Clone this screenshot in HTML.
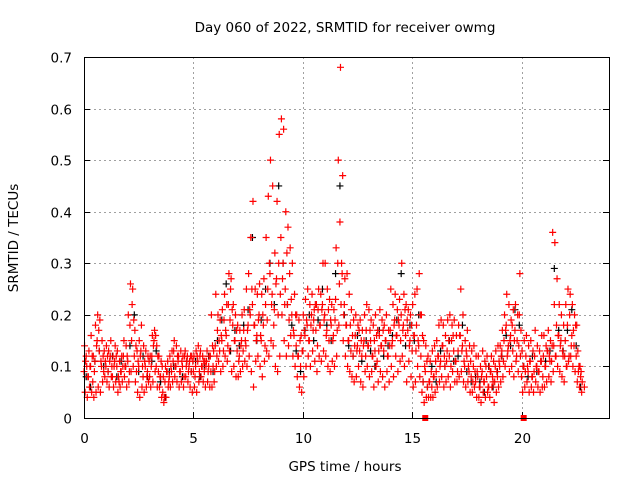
<!DOCTYPE html>
<html><head><meta charset="utf-8"><style>
body{margin:0;background:#fff}
svg{display:block;font-family:"DejaVu Sans","Liberation Sans",sans-serif}
</style></head><body>
<svg id="chart" width="640" height="480" xmlns="http://www.w3.org/2000/svg">
<rect width="640" height="480" fill="#fff"/>
<text x="345" y="32" font-size="13.5" text-anchor="middle">Day 060 of 2022, SRMTID for receiver owmg</text>
<text transform="translate(18,238) rotate(-90)" font-size="13.5" text-anchor="middle">SRMTID / TECUs</text>
<text x="345" y="471" font-size="13.5" text-anchor="middle">GPS time / hours</text>
<g id="grid"></g>
<g id="ticks"></g>
<g id="marks"></g>
<rect x="84.5" y="57.5" width="525" height="361" fill="none" stroke="#000" stroke-width="1"/>
</svg>
<script>
const xTicks=[0,5,10,15,20];
const yTicks=[0,0.1,0.2,0.3,0.4,0.5,0.6,0.7];
const yTickLabels=["0","0.1","0.2","0.3","0.4","0.5","0.6","0.7"];
const step=0.1;
const redA=[.09,.12,.08,.10,.07,.11,.15,.13,.10,.09,.10,.09,.12,.08,.11,.10,.07,.09,.12,.10,.11,.18,.22,.12,.09,.10,.13,.08,.10,.09,.08,.12,.15,.10,.09,.08,.05,.07,.09,.08,.09,.13,.10,.11,.09,.10,.12,.11,.10,.09,.09,.10,.11,.12,.10,.09,.11,.10,.09,.10,.14,.17,.13,.15,.19,.16,.22,.25,.18,.15,.13,.12,.15,.17,.14,.18,.20,.22,.18,.16,.20,.15,.18,.22,.25,.28,.24,.21,.27,.30,.35,.30,.25,.22,.28,.20,.16,.14,.12,.10,.13,.16,.18,.15,.20,.19,.17,.21,.18,.22,.20,.17,.15,.18,.16,.23,.30,.38,.28,.22,.18,.15,.13,.12,.16,.14,.13,.12,.15,.17,.14,.15,.12,.13,.11,.16,.14,.13,.15,.12,.17,.15,.19,.16,.18,.20,.18,.16,.17,.15,.13,.16,.18,.14,.12,.07,.09,.06,.07,.06,.08,.09,.12,.11,.14,.10,.13,.12,.15,.13,.11,.13,.16,.14,.10,.12,.09,.08,.10,.07,.08,.06,.09,.07,.08,.06,.09,.07,.10,.08,.10,.13,.15,.18,.14,.16,.13,.17,.15,.20,.08,.10,.12,.09,.11,.08,.12,.10,.09,.11,.12,.10,.13,.11,.14,.22,.18,.16,.15,.12,.15,.18,.20,.16,.14,.12,.09,.08];
const redB=[.14,.10,.13,.16,.12,.18,.20,.19,.15,.13,.14,.13,.15,.12,.14,.13,.11,.12,.15,.14,.20,.26,.25,.17,.13,.15,.18,.14,.13,.12,.12,.16,.17,.14,.12,.11,.08,.10,.11,.12,.13,.15,.14,.12,.13,.12,.13,.12,.11,.12,.12,.13,.14,.13,.12,.11,.13,.12,.20,.13,.24,.20,.19,.21,.24,.22,.28,.27,.22,.20,.18,.17,.20,.21,.25,.28,.35,.42,.25,.24,.26,.24,.27,.35,.43,.50,.45,.32,.42,.55,.58,.56,.40,.37,.33,.30,.24,.20,.19,.16,.20,.23,.25,.22,.24,.21,.22,.25,.24,.30,.30,.25,.23,.22,.21,.33,.50,.68,.47,.27,.28,.24,.21,.19,.20,.18,.19,.17,.20,.22,.21,.19,.18,.20,.17,.21,.19,.18,.20,.17,.25,.22,.24,.21,.23,.30,.24,.22,.21,.20,.22,.24,.25,.28,.20,.15,.14,.12,.11,.13,.14,.15,.18,.19,.18,.16,.19,.20,.18,.19,.16,.18,.25,.20,.15,.17,.14,.13,.14,.12,.12,.10,.13,.11,.12,.10,.12,.11,.13,.14,.14,.17,.20,.24,.22,.19,.21,.22,.20,.28,.13,.15,.16,.14,.15,.13,.17,.14,.13,.16,.16,.14,.17,.15,.36,.34,.27,.22,.20,.18,.22,.25,.24,.22,.20,.18,.10,.09];
const redC=[.05,.04,.06,.05,.04,.05,.06,.05,.07,.08,.07,.06,.08,.06,.07,.05,.06,.07,.08,.06,.07,.09,.10,.07,.05,.04,.06,.05,.06,.07,.06,.07,.09,.06,.06,.04,.03,.04,.06,.06,.07,.08,.07,.06,.07,.06,.08,.07,.06,.05,.06,.05,.07,.08,.07,.06,.07,.06,.06,.07,.10,.11,.09,.10,.12,.11,.13,.09,.10,.08,.08,.09,.10,.11,.10,.12,.09,.06,.11,.12,.10,.08,.11,.13,.12,.15,.14,.10,.09,.12,.20,.15,.12,.14,.16,.12,.10,.08,.06,.05,.08,.10,.12,.10,.13,.11,.09,.12,.11,.13,.12,.10,.09,.11,.10,.12,.18,.22,.15,.12,.10,.09,.08,.07,.08,.10,.07,.06,.09,.10,.08,.09,.06,.10,.07,.09,.08,.06,.09,.07,.10,.08,.12,.09,.11,.12,.10,.07,.11,.08,.06,.07,.10,.08,.05,.03,.04,.04,.04,.04,.05,.06,.07,.08,.06,.07,.08,.06,.09,.07,.07,.08,.09,.07,.06,.07,.05,.05,.06,.04,.04,.03,.05,.04,.05,.04,.06,.03,.05,.06,.07,.08,.10,.12,.09,.10,.08,.11,.09,.12,.05,.06,.07,.05,.06,.05,.07,.06,.05,.06,.06,.07,.08,.07,.09,.12,.10,.09,.08,.07,.10,.11,.12,.10,.09,.07,.06,.05];
const redD=[.11,.08,.10,.12,.09,.14,.17,.11,.12,.11,.12,.11,.10,.10,.12,.08,.09,.10,.10,.12,.09,.15,.19,.14,.11,.12,.10,.11,.08,.11,.10,.14,.16,.12,.08,.10,.04,.09,.07,.10,.11,.10,.12,.09,.11,.08,.10,.09,.12,.11,.08,.12,.09,.10,.11,.10,.09,.12,.14,.09,.12,.15,.16,.13,.17,.14,.19,.21,.15,.17,.11,.14,.13,.15,.17,.21,.25,.18,.15,.19,.16,.20,.14,.19,.30,.22,.18,.26,.20,.24,.27,.22,.32,.19,.23,.17,.20,.12,.15,.13,.17,.19,.15,.18,.17,.22,.14,.18,.21,.19,.16,.21,.19,.15,.19,.17,.26,.30,.20,.18,.15,.18,.16,.14,.13,.17,.15,.14,.12,.14,.17,.12,.15,.16,.13,.14,.17,.15,.12,.14,.14,.18,.16,.19,.15,.17,.21,.19,.14,.18,.16,.13,.15,.20,.16,.10,.11,.07,.09,.08,.11,.12,.10,.14,.12,.11,.15,.10,.16,.11,.09,.16,.13,.11,.13,.10,.11,.07,.09,.09,.06,.08,.07,.10,.06,.09,.08,.07,.09,.11,.12,.11,.17,.13,.15,.18,.15,.12,.14,.17,.10,.09,.10,.11,.08,.09,.10,.09,.11,.08,.10,.13,.12,.11,.14,.12,.16,.14,.13,.12,.10,.12,.14,.17,.18,.13,.10,.07,.06];
const blackStep=0.2;
const black=[.08,.06,.11,.13,.10,.09,.12,.08,.11,.10,.14,.20,.09,.12,.08,.11,.13,.07,.04,.09,.10,.12,.08,.11,.09,.11,.08,.10,.12,.09,.15,.19,.26,.13,.17,.14,.18,.21,.35,.15,.19,.25,.30,.22,.45,.30,.22,.18,.13,.09,.17,.20,.15,.19,.25,.18,.15,.28,.45,.20,.14,.12,.16,.11,.15,.13,.10,.17,.12,.14,.16,.19,.28,.14,.18,.15,.20,.07,.06,.10,.07,.13,.10,.15,.11,.12,.18,.09,.07,.08,.07,.05,.10,.06,.09,.12,.16,.14,.21,.18,.10,.08,.12,.09,.11,.11,.13,.29,.17,.13,.17,.21,.14,.06];
const zeroTimes=[15.6,20.1];
const X=h=>84+h*(525/24);
const Y=v=>418-v*(361/0.7);
const NS="http://www.w3.org/2000/svg";
function mk(tag,parent,attrs){const e=document.createElementNS(NS,tag);for(const k in attrs)e.setAttribute(k,attrs[k]);parent.appendChild(e);return e;}
const grid=document.getElementById('grid'),ticks=document.getElementById('ticks'),marks=document.getElementById('marks');
xTicks.forEach(t=>{const x=Math.round(X(t))+0.5;
 if(t>0){const g=mk('line',grid,{x1:x,x2:x,y1:57,y2:418,stroke:'#a0a0a0','stroke-dasharray':'2,3'});
 }
 const tl=mk('line',ticks,{x1:x,x2:x,y1:418,y2:412,stroke:'#000'});
 
 const tx=mk('text',ticks,{x:x,y:443,'font-size':'13.5','text-anchor':'middle'});tx.textContent=t;
 });
yTicks.forEach((t,i)=>{const y=Math.round(Y(t))+0.5;
 if(t>0&&t<0.7){const g=mk('line',grid,{x1:84,x2:609,y1:y,y2:y,stroke:'#a0a0a0','stroke-dasharray':'2,3'});
 }
 const tl=mk('line',ticks,{x1:84,x2:90,y1:y,y2:y,stroke:'#000'});
 
 const tr=mk('line',ticks,{x1:603,x2:609,y1:y,y2:y,stroke:'#000'});
 
 const tx=mk('text',ticks,{x:72,y:y+5,'font-size':'13.5','text-anchor':'end'});tx.textContent=yTickLabels[i];
 });
function plus(h,v,col,name){const x=X(h),y=Y(v);
 const p=mk('path',marks,{d:`M${x-3.5} ${y}H${x+3.5}M${x} ${y-3.5}V${y+3.5}`,stroke:col,'stroke-width':'1.2',fill:'none'});
 }
black.forEach((v,i)=>plus(i*blackStep+0.1,v,'#000','black-point'));
[redA,redB,redC,redD].forEach((arr,k)=>arr.forEach((v,i)=>plus(i*step+k*0.025,v,'#ff0000','red-point')));
zeroTimes.forEach(h=>{const r=mk('rect',marks,{x:X(h)-3,y:415,width:6,height:6,fill:'#ff0000'});
 });
</script>
</body></html>
